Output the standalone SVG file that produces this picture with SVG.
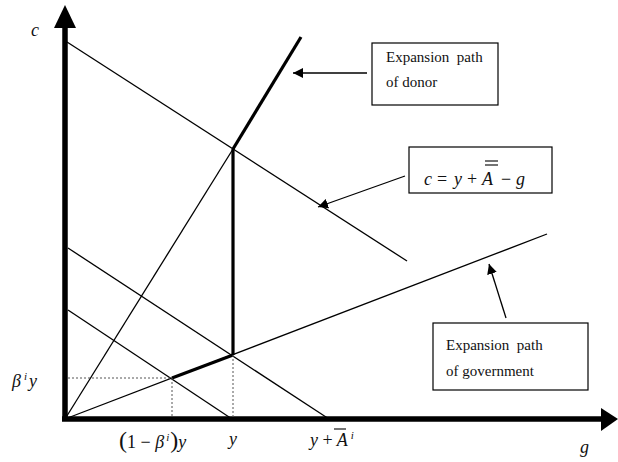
<svg xmlns="http://www.w3.org/2000/svg" width="618" height="462" viewBox="0 0 618 462">
<style>
.thin{stroke:#000;stroke-width:1.3;fill:none}
.thick{stroke:#000;stroke-width:3.2;fill:none}
.axis{stroke:#000;stroke-width:5.5;fill:none}
.dot{stroke:#555;stroke-width:1;stroke-dasharray:2 2;fill:none}
.box{fill:#fff;stroke:#000;stroke-width:1.2}
.t{font-family:"Liberation Serif",serif;font-size:15px;fill:#111}
.m{font-family:"Liberation Serif",serif;font-size:18px;font-style:italic;fill:#111}
.n{font-family:"Liberation Serif",serif;font-size:18px;fill:#111}
.bar{stroke:#000;stroke-width:1.1}
</style>
<defs>
<marker id="ah" viewBox="0 0 10 10" refX="10" refY="5" markerWidth="10" markerHeight="10" markerUnits="userSpaceOnUse" orient="auto">
<path d="M0,0 L10,5 L0,10 z" fill="#000"/>
</marker>
</defs>
<rect width="618" height="462" fill="#fff"/>
<g id="axes">
<line class="axis" x1="65" y1="421" x2="65" y2="26"/>
<path d="M65,5 L54,28 L76,28 z" fill="#000"/>
<line class="axis" x1="62" y1="419" x2="602" y2="419"/>
<path d="M618,419 L601,408 L601,431 z" fill="#000"/>
<text class="m" x="31" y="36">c</text>
<text class="m" x="580" y="453">g</text>
</g>
<g id="connectors">
<line class="thin" x1="65" y1="419" x2="233" y2="149"/>
<line class="thick" x1="233" y1="149" x2="301" y2="37"/>
<line class="thick" x1="233" y1="149" x2="233" y2="355"/>
<line class="thin" x1="65" y1="419" x2="547" y2="234"/>
<line class="thick" x1="172" y1="378" x2="233" y2="355"/>
<line class="thin" x1="67" y1="42" x2="407" y2="261"/>
<line class="thin" x1="68" y1="248" x2="329" y2="419"/>
<line class="thin" x1="68" y1="310" x2="232" y2="419"/>
<line class="dot" x1="68" y1="378" x2="172" y2="378"/>
<line class="dot" x1="172" y1="378" x2="172" y2="417"/>
<line class="dot" x1="233" y1="355" x2="233" y2="417"/>
<line class="thin" x1="367" y1="73" x2="293" y2="73" marker-end="url(#ah)"/>
<line class="thin" x1="405" y1="176" x2="318" y2="207" marker-end="url(#ah)"/>
<line class="thin" x1="506" y1="318" x2="489" y2="264" marker-end="url(#ah)"/>
</g>
<g id="donor">
<rect class="box" x="372" y="43" width="126" height="62"/>
<text class="t" x="386" y="62" xml:space="preserve">Expansion  path</text>
<text class="t" x="386" y="87">of donor</text>
</g>
<g id="budget">
<rect class="box" x="409" y="147" width="143" height="46"/>
<text class="m" x="424" y="185">c</text>
<text class="n" x="437" y="185">=</text>
<text class="m" x="454" y="185">y</text>
<text class="n" x="467" y="185">+</text>
<text class="m" x="482" y="185">A</text>
<line class="bar" x1="485" y1="161" x2="498" y2="161"/>
<line class="bar" x1="485" y1="165" x2="498" y2="165"/>
<text class="n" x="501" y="185">−</text>
<text class="m" x="516" y="185">g</text>
</g>
<g id="government">
<rect class="box" x="433" y="323" width="155" height="67"/>
<text class="t" x="446" y="350" xml:space="preserve">Expansion  path</text>
<text class="t" x="446" y="376">of government</text>
</g>
<g id="labels">
<text class="m" x="12" y="387">β<tspan font-size="11" dy="-7" dx="3">i</tspan><tspan dy="7" dx="2">y</tspan></text>
<text class="n" x="119" y="448"><tspan font-size="24">(</tspan>1 − <tspan font-style="italic">β</tspan><tspan font-style="italic" font-size="11" dy="-7" dx="2">i</tspan><tspan font-size="24" dy="7" dx="1">)</tspan><tspan font-style="italic">y</tspan></text>
<text class="m" x="229" y="445">y</text>
<text class="m" x="310" y="446">y <tspan font-style="normal">+</tspan> A<tspan font-size="11" dy="-7" dx="3">i</tspan></text>
<line class="bar" x1="334" y1="429" x2="346" y2="429"/>
</g>
</svg>
